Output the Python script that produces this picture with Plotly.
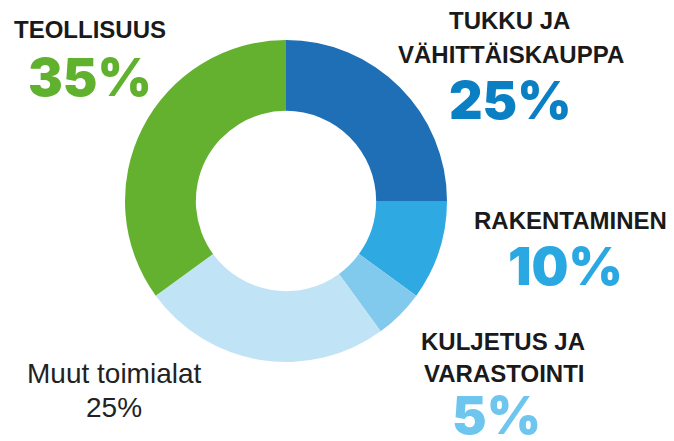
import plotly.graph_objects as go

W, H = 674, 441

# ---- data ----
sectors = ["Tukku ja vähittäiskauppa", "Rakentaminen", "Kuljetus ja varastointi",
           "Muut toimialat", "Teollisuus"]
shares = [25, 10, 5, 25, 35]
slice_colors = ["#1f6fb6", "#2ea9e1", "#82c9ee", "#c0e4f6", "#63b12f"]

# label texts (heading lines) and percentage texts
heading_lines = [["TUKKU JA", "VÄHITTÄISKAUPPA"], ["RAKENTAMINEN"],
                 ["KULJETUS JA", "VARASTOINTI"], ["Muut toimialat"], ["TEOLLISUUS"]]
pct_colors = ["#0b7fc3", "#2aa8e1", "#6ec6ee", "#222222", "#5fb12e"]

# ---- layout positions (pixels) ----
head_pos = [[(509, 20), (511, 55)], [(570, 220)], [(503, 341), (504, 373)],
            [(114, 373)], [(90, 30)]]
pct_pos = [(510, 100), (565, 266), (496, 415), (114, 407), (90, 77)]

fig = go.Figure()
cx, cy, r = 286, 201, 161
fig.add_trace(go.Pie(
    labels=sectors, values=shares, sort=False, direction="clockwise", rotation=0,
    hole=0.56, marker=dict(colors=slice_colors, line=dict(width=0)),
    textinfo="none", hoverinfo="label+percent", showlegend=False,
    domain=dict(x=[(cx - r) / W, (cx + r) / W], y=[1 - (cy + r) / H, 1 - (cy - r) / H]),
))

ann = []
for i, lines in enumerate(heading_lines):
    regular = sectors[i] == "Muut toimialat"
    for txt, (x, y) in zip(lines, head_pos[i]):
        ann.append(dict(
            text=txt, x=x / W, y=1 - y / H, xref="paper", yref="paper",
            xanchor="center", yanchor="middle", showarrow=False, borderpad=0,
            font=dict(family="Liberation Sans, Arial, sans-serif",
                      size=28 if regular else 24,
                      weight=400 if regular else 700,
                      color="#222222" if regular else "#1a1a1a"),
        ))
    x, y = pct_pos[i]
    a = dict(
        text=f"{shares[i]}%", x=x / W, y=1 - y / H,
        xref="paper", yref="paper",
        xanchor="center", yanchor="middle", borderpad=0, showarrow=False,
        font=dict(family="Liberation Sans, Arial, sans-serif", size=28, weight=400,
                  color=pct_colors[i]) if regular else
             dict(family="Inter, Lato, sans-serif", size=52, weight=900,
                  color=pct_colors[i]),
    )
    if not regular:
        a.update(height=40, valign="middle")
    ann.append(a)

fig.update_layout(
    width=W, height=H, margin=dict(l=0, r=0, t=0, b=0),
    paper_bgcolor="white", plot_bgcolor="white",
    annotations=ann,
)

fig.write_html("out.html", config={"displayModeBar": False},
               post_script="document.body.style.margin='0';")
